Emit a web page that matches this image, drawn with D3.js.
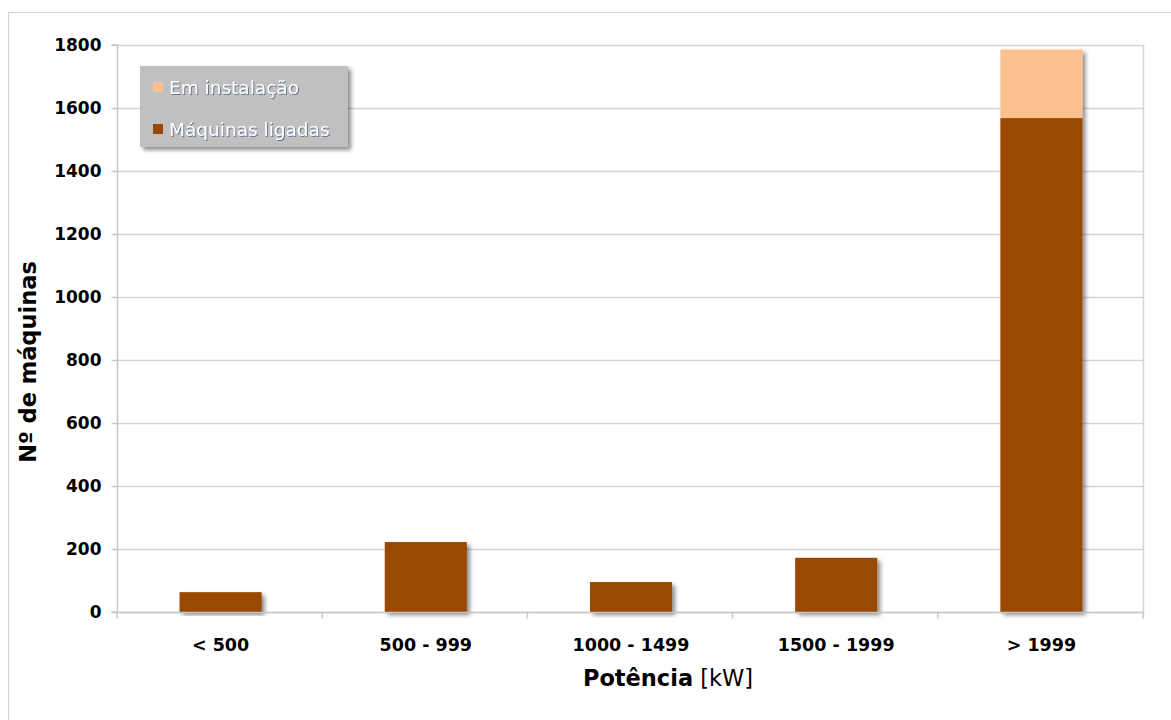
<!DOCTYPE html>
<html>
<head>
<meta charset="utf-8">
<script src="https://cdn.jsdelivr.net/npm/d3@7"></script>
<style>
  body { margin: 0; background: #fff; }
  svg { display: block; font-family: "DejaVu Sans", Verdana, sans-serif; }
</style>
</head>
<body>
<svg id="chart" width="1171" height="720"></svg>
<script>
const categories = ["< 500", "500 - 999", "1000 - 1499", "1500 - 1999", "> 1999"];
const ligadas = [63, 222, 95, 172, 1568];
const emInstalacao = [0, 0, 0, 0, 218];
const yTicks = [0, 200, 400, 600, 800, 1000, 1200, 1400, 1600, 1800];
const seriesNames = ["Em instalação", "Máquinas ligadas"];

const colors = { ligadas: "#9a4806", inst: "#fac090" };

const svg = d3.select("#chart");
const plot = { left: 117, right: 1143, top: 45, bottom: 612 };

const defs = svg.append("defs");
defs.append("filter")
  .attr("id", "shadow")
  .attr("x", "-20%").attr("y", "-20%").attr("width", "140%").attr("height", "140%")
  .append("feDropShadow")
  .attr("dx", 3).attr("dy", 3).attr("stdDeviation", 2)
  .attr("flood-color", "#000").attr("flood-opacity", 0.45);
defs.append("filter")
  .attr("id", "textShadow")
  .append("feDropShadow")
  .attr("dx", 1).attr("dy", 1).attr("stdDeviation", 0.4)
  .attr("flood-color", "#5a6a8a").attr("flood-opacity", 0.9);

// outer chart frame
svg.append("rect")
  .attr("x", 8.5).attr("y", 12.5).attr("width", 1180).attr("height", 720)
  .attr("fill", "none").attr("stroke", "#d0d0d0").attr("stroke-width", 1);

const x = d3.scaleBand().domain(categories).range([plot.left, plot.right]).paddingInner(0.6).paddingOuter(0.3);
const y = d3.scaleLinear().domain([0, 1800]).range([plot.bottom, plot.top]);

// gridlines
svg.append("g")
  .selectAll("line")
  .data(yTicks)
  .join("line")
  .attr("x1", plot.left).attr("x2", plot.right)
  .attr("y1", (d) => Math.round(y(d)) + 0.5).attr("y2", (d) => Math.round(y(d)) + 0.5)
  .attr("stroke", "#d4d4d4").attr("stroke-width", 1.5);

// plot right border
svg.append("line")
  .attr("x1", plot.right + 0.5).attr("x2", plot.right + 0.5)
  .attr("y1", plot.top).attr("y2", plot.bottom + 5)
  .attr("stroke", "#d4d4d4").attr("stroke-width", 1.5);

// bars
const stackData = categories.map((c, i) => ({ cat: c, lig: ligadas[i], inst: emInstalacao[i] }));
const barG = svg.append("g");
const groups = barG.selectAll("g").data(stackData).join("g").attr("filter", "url(#shadow)");
groups.append("rect")
  .attr("x", (d) => x(d.cat) + 1)
  .attr("width", x.bandwidth())
  .attr("y", (d) => y(d.lig))
  .attr("height", (d) => y(0) - y(d.lig))
  .attr("fill", colors.ligadas);
groups.filter((d) => d.inst > 0).append("rect")
  .attr("x", (d) => x(d.cat) + 1)
  .attr("width", x.bandwidth())
  .attr("y", (d) => y(d.lig + d.inst))
  .attr("height", (d) => y(d.lig) - y(d.lig + d.inst))
  .attr("fill", colors.inst);

// y axis
const yAxis = svg.append("g")
  .attr("transform", `translate(${plot.left + 0.5},0)`)
  .call(d3.axisLeft(y).tickValues(yTicks).tickFormat(d3.format("d")).tickSize(6).tickPadding(10));
yAxis.select(".domain").attr("stroke", "#c8c8c8").attr("stroke-width", 1.5).attr("d", `M-6,${plot.bottom}H0V${plot.top}H-6`);
yAxis.selectAll(".tick line").attr("stroke", "#c8c8c8").attr("stroke-width", 1.5);
yAxis.selectAll("text").attr("font-size", 17).attr("font-weight", "bold").attr("fill", "#000")
  .attr("font-family", "'DejaVu Sans', Verdana, sans-serif");

// x axis
const xAxis = svg.append("g").attr("transform", `translate(0,${plot.bottom + 0.5})`);
xAxis.append("line")
  .attr("x1", plot.left).attr("x2", plot.right)
  .attr("stroke", "#c8c8c8").attr("stroke-width", 1.5);
const step = (plot.right - plot.left) / categories.length;
xAxis.selectAll("line.tk")
  .data(d3.range(categories.length + 1))
  .join("line")
  .attr("class", "tk")
  .attr("x1", (i) => plot.left + i * step).attr("x2", (i) => plot.left + i * step)
  .attr("y1", 0).attr("y2", 6)
  .attr("stroke", "#c8c8c8").attr("stroke-width", 1.5);
xAxis.selectAll("text")
  .data(categories)
  .join("text")
  .attr("x", (d) => x(d) + x.bandwidth() / 2 + 1)
  .attr("y", 38)
  .attr("text-anchor", "middle")
  .attr("font-size", 17.5).attr("font-weight", "bold")
  .text((d) => d);

// axis titles
const xt = svg.append("text")
  .attr("x", 668).attr("y", 686)
  .attr("text-anchor", "middle")
  .attr("font-size", 22.5);
xt.append("tspan").attr("font-weight", "bold").text("Potência");
xt.append("tspan").text(" [kW]");

svg.append("text")
  .attr("transform", "translate(36,362) rotate(-90)")
  .attr("text-anchor", "middle")
  .attr("font-size", 22.5).attr("font-weight", "bold")
  .text("Nº de máquinas");

// legend
const legend = svg.append("g").attr("transform", "translate(140,66)");
legend.append("rect")
  .attr("width", 208).attr("height", 81)
  .attr("fill", "#c0c0c0")
  .attr("filter", "url(#shadow)");
const legendColors = [colors.inst, colors.ligadas];
const items = legend.selectAll("g.item")
  .data(seriesNames)
  .join("g")
  .attr("class", "item")
  .attr("transform", (d, i) => `translate(13,${21 + i * 42})`);
items.append("rect")
  .attr("x", 0).attr("y", -5).attr("width", 10).attr("height", 10)
  .attr("fill", (d, i) => legendColors[i]);
items.append("text")
  .attr("x", 16).attr("y", 6.5)
  .attr("font-size", 18.5)
  .attr("fill", "#fff")
  .attr("filter", "url(#textShadow)")
  .text((d) => d);
</script>
</body>
</html>
